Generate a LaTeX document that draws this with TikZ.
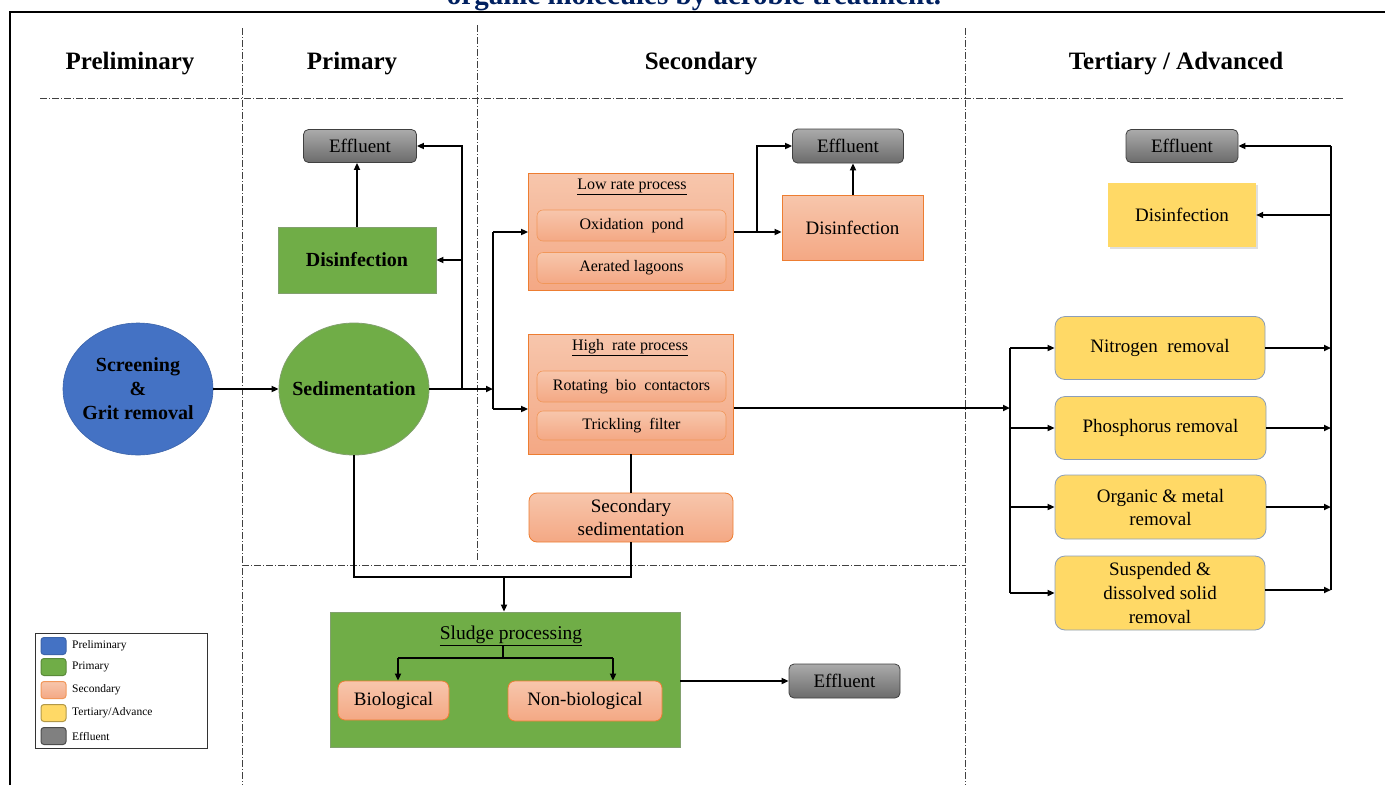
\documentclass[tikz,border=0pt]{standalone}
\usepackage{fontspec}
\setmainfont{Liberation Serif}
\usetikzlibrary{arrows.meta,shadows,shapes.geometric,calc}
\definecolor{pblue}{RGB}{68,114,196}
\definecolor{pblueb}{RGB}{60,100,170}
\definecolor{pgreen}{RGB}{112,173,71}
\definecolor{pgreenb}{RGB}{130,160,110}
\definecolor{salmonT}{RGB}{247,198,172}
\definecolor{salmonB}{RGB}{244,168,132}
\definecolor{sorange}{RGB}{237,125,49}
\definecolor{yel}{RGB}{255,217,102}
\definecolor{yelb}{RGB}{140,158,185}
\definecolor{navy}{RGB}{0,32,96}
\tikzset{
  arr/.style={line width=1.9pt,-{Triangle[length=7pt,width=6pt]}},
  ln/.style={line width=1.9pt},
  ddl/.style={line width=0.8pt,dash pattern=on 7pt off 2pt on 1pt off 2pt,draw=black!75},
  hdr/.style={font=\fontsize{25}{28}\selectfont\bfseries},
  txt/.style={font=\fontsize{19}{23}\selectfont,align=center,inner sep=0pt},
  small/.style={font=\fontsize{16}{19}\selectfont,align=center,inner sep=0pt},
  bold/.style={font=\fontsize{20}{24}\selectfont\bfseries,align=center,inner sep=0pt},
  eff/.style={txt,draw=black!75,line width=0.8pt,rounded corners=5pt,top color=black!33,bottom color=black!58},
  sal/.style={txt,draw=sorange,line width=0.8pt,top color=salmonT,bottom color=salmonB},
  salsub/.style={small,draw=sorange!80,line width=0.6pt,rounded corners=6pt,top color=salmonT,bottom color=salmonB,minimum width=189pt,minimum height=31pt},
  grn/.style={draw=pgreenb,line width=0.8pt,fill=pgreen,inner sep=0pt},
  yelbox/.style={txt,draw=yelb,line width=0.8pt,fill=yel,rounded corners=10pt},
  lsw/.style={minimum width=25pt,minimum height=17pt,rounded corners=3pt,line width=1pt,inner sep=0pt},
  ltx/.style={font=\fontsize{11.5}{13}\selectfont,anchor=west,inner sep=0pt}
}
\begin{document}
\begin{tikzpicture}[x=1pt,y=-1pt]
\useasboundingbox (0,0) rectangle (1385,785);
% title (cut off at the top, as in the reference)
\node[font=\fontsize{29}{32}\selectfont\bfseries,text=navy,anchor=base,inner sep=0pt] (title) at (694,4) {organic molecules by aerobic treatment.};
% frame
\draw[line width=2.5pt] (10,785) -- (10,12) -- (1385,12);
% dash-dot separators
\draw[ddl] (242,28) -- (242,785);
\draw[ddl] (477,25) -- (477,560);
\draw[ddl] (965,28) -- (965,785);
\draw[ddl] (40,98) -- (1343,98);
\draw[ddl] (242,565) -- (965,565);
% headers
\node[hdr] (h1) at (130,64) {Preliminary};
\node[hdr] (h2) at (352,64) {Primary};
\node[hdr] (h3) at (701,64) {Secondary};
\node[hdr] (h4) at (1176,64) {Tertiary / Advanced};
% preliminary / primary
\node[ellipse,fill=pblue,draw=pblueb,line width=0.6pt,minimum width=150pt,minimum height=132pt,inner sep=0pt] (scr) at (138,389) {};
\node[bold] (scrt) at (scr.center) {Screening\\\&\\Grit removal};
\node[ellipse,grn,minimum width=150pt,minimum height=132pt] (sed) at (354,389) {};
\node[bold] (sedt) at (sed.center) {Sedimentation};
\node[grn,bold,minimum width=158pt,minimum height=66pt] (dis1) at (357,260) {Disinfection};
\node[eff,minimum width=113pt,minimum height=33pt] (eff1) at (360,146) {Effluent};
% secondary
\node[sal,minimum width=205pt,minimum height=117pt] (low) at (631,232) {};
\node[small] (lowt) at (632,187) {\underline{Low rate process}};
\node[salsub] (oxi) at (631.5,225.5) {Oxidation\ \ pond};
\node[salsub] (aer) at (631.5,268) {Aerated lagoons};
\node[sal,minimum width=205pt,minimum height=120pt] (high) at (631,394) {};
\node[small] (hight) at (630,348) {\underline{High\ \ rate process}};
\node[salsub] (rot) at (631.5,386.5) {Rotating\ \ bio\ \ contactors};
\node[salsub,minimum height=29pt] (tri) at (631.5,425.5) {Trickling\ \ filter};
\node[sal,minimum width=141pt,minimum height=65pt] (dis2) at (852.5,227.5) {Disinfection};
\node[eff,minimum width=111pt,minimum height=34pt] (eff2) at (848,146) {Effluent};
\node[sal,rounded corners=8pt,minimum width=204pt,minimum height=49pt] (secsed) at (631,517.5) {Secondary\\sedimentation};
% sludge
\node[grn,minimum width=350pt,minimum height=135pt] (sludge) at (505,679.5) {};
\node[txt,font=\fontsize{19.5}{23}\selectfont] (stitle) at (511,636) {\underline{Sludge processing}};
\node[sal,rounded corners=7pt,minimum width=111pt,minimum height=39pt] (bio) at (393.5,700.5) {Biological};
\node[sal,rounded corners=7pt,minimum width=154pt,minimum height=40pt] (nonbio) at (585,701) {Non-biological};
\node[eff,minimum width=111pt,minimum height=34pt] (eff4) at (844.5,681) {Effluent};
% tertiary
\node[eff,minimum width=112pt,minimum height=33pt] (eff3) at (1182,146) {Effluent};
\node[txt,fill=yel,minimum width=148pt,minimum height=64pt,drop shadow={opacity=0.25,shadow xshift=2pt,shadow yshift=-2pt}] (dis3) at (1182,215) {Disinfection};
\node[yelbox,minimum width=210pt,minimum height=63pt] (nit) at (1160,348) {Nitrogen\ \ removal};
\node[yelbox,minimum width=211pt,minimum height=63pt] (pho) at (1160.5,428) {Phosphorus removal};
\node[yelbox,minimum width=211pt,minimum height=64pt] (org) at (1160.5,507) {Organic \& metal\\removal};
\node[yelbox,minimum width=210pt,minimum height=74pt,font=\fontsize{19}{24}\selectfont] (sus) at (1160,593) {Suspended \&\\dissolved solid\\removal};
% legend
\draw[line width=0.9pt,draw=black!80] (35,633) rectangle (207,748);
\node[lsw,fill=pblue,draw=pblueb] (lg1) at (53.5,646) {};
\node[lsw,fill=pgreen,draw=pgreen!80!black] (lg2) at (53.5,667) {};
\node[lsw,top color=salmonT,bottom color=salmonB,draw=sorange!80] (lg3) at (53.5,690) {};
\node[lsw,fill=yel,draw=yel!70!black] (lg4) at (53.5,713) {};
\node[lsw,fill=black!50,draw=black!70] (lg5) at (53.5,736) {};
\node[ltx] (lt1) at (72,646) {Preliminary};
\node[ltx] (lt2) at (72,667) {Primary};
\node[ltx] (lt3) at (72,690) {Secondary};
\node[ltx] (lt4) at (72,713) {Tertiary/Advance};
\node[ltx] (lt5) at (72,736) {Effluent};
% coordinates
\coordinate (j1) at (462,389);
\coordinate (b1) at (493,389);
\coordinate (bt) at (493,232);
\coordinate (bb) at (493,409);
\coordinate (j2) at (757,232);
\coordinate (b2t) at (1010,348);
\coordinate (b2m) at (1010,408);
\coordinate (b2b) at (1010,593);
\coordinate (r1) at (1331,146);
\coordinate (sj) at (504,577);
\coordinate (st) at (503,658);
\coordinate (sl) at (398,658);
\coordinate (sr) at (613,658);
% connectors: primary
\draw[arr] (scr.east) -- (sed.west);
\draw[ln] (sed.east) -- (j1);
\draw[arr] (j1) -- (b1);
\draw[arr] (j1) |- (eff1.east);
\draw[arr] (j1 |- dis1.east) -- (dis1.east);
\draw[arr] (dis1.north) -- (dis1.north |- eff1.south);
% bracket to secondary
\draw[ln] (bt) -- (bb);
\draw[arr] (bt) -- (bt -| low.west);
\draw[arr] (bb) -- (bb -| high.west);
% low rate
\draw[arr] (low.east) -- (low.east -| dis2.west);
\draw[arr] (j2) |- (eff2.west);
\draw[arr] (dis2.north -| eff2.south) ++(5,0) coordinate (d2n) -- (d2n |- eff2.south);
% high rate to tertiary
\draw[arr] (high.east |- b2m) -- (b2m);
\draw[ln] (b2t) -- (b2b);
\draw[arr] (b2t |- nit.west) -- (nit.west);
\draw[arr] (b2t |- pho.west) -- (pho.west);
\draw[arr] (b2t |- org.west) -- (org.west);
\draw[arr] (b2t |- sus.west) -- (sus.west);
\draw[arr] (nit.east) -- (nit.east -| r1);
\draw[arr] (pho.east) -- (pho.east -| r1);
\draw[arr] (org.east) -- (org.east -| r1);
\draw[arr] ($(sus.east)+(0,-3)$) coordinate (se) -- (se -| r1);
\draw[ln] (r1) -- (r1 |- se);
\draw[arr] (r1) -- (r1 -| eff3.east);
\draw[arr] (r1 |- dis3.east) -- (dis3.east);
% sludge
\draw[ln] (high.south) -- (high.south |- secsed.north);
\draw[ln] (sed.south) |- (secsed.south |- sj) -- (secsed.south);
\draw[arr] (sj) -- (sj |- sludge.north);
\draw[ln] (st |- stitle.south) -- (st);
\draw[ln] (sl) -- (sr);
\draw[arr] (sl) -- (sl |- bio.north);
\draw[arr] (sr) -- (sr |- nonbio.north);
\draw[arr] (sludge.east |- eff4.west) -- (eff4.west);
\end{tikzpicture}
\end{document}
